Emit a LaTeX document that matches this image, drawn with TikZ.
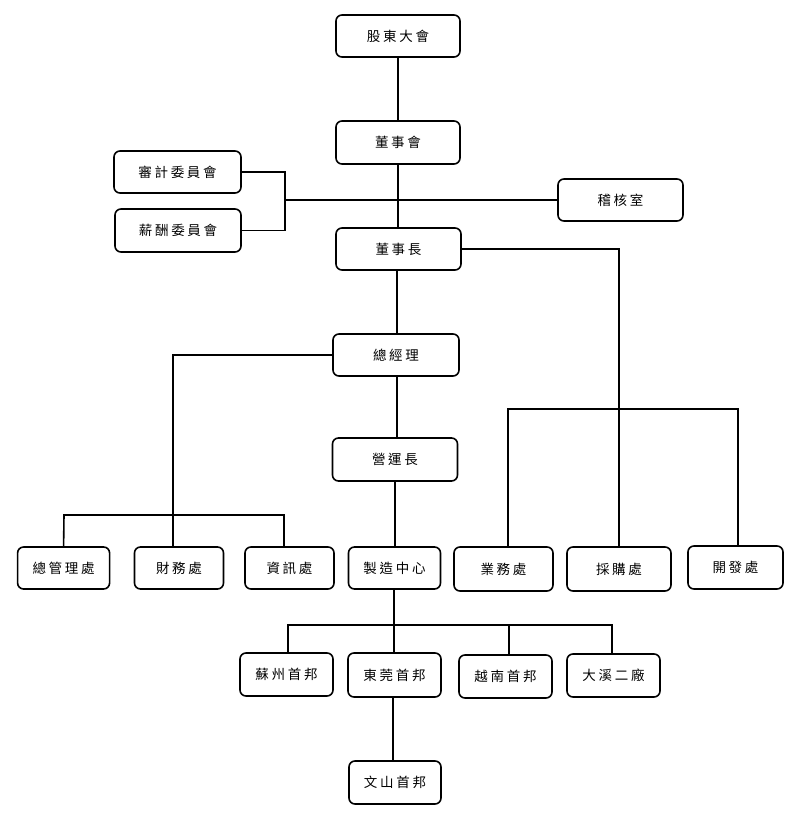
\documentclass[tikz,border=0pt]{standalone}
\usepackage{fontspec}
\newfontfamily\cjk[LetterSpace=20]{Noto Sans CJK TC}
\usetikzlibrary{positioning}

\begin{document}
\begin{tikzpicture}
			[x=1pt,y=-1pt,line width=1.6pt]
			\tikzstyle{every node}=[draw, rounded corners=6pt, inner sep=0pt, minimum height=42pt, font=\cjk\fontsize{13.5}{16}\selectfont]
			\useasboundingbox (0,0) rectangle (791,815);
			
			\node[minimum width=124pt]  (gd) at (398,36) {股東大會};
			\node[minimum width=124pt, minimum height=43pt]  (dsh) at (398,142.5) {董事會};
			\node[minimum width=127pt]  (sj) at (177.5,172) {審計委員會};
			\node[minimum width=126pt, minimum height=43pt]  (xc) at (178,230.5) {薪酬委員會};
			\node[minimum width=125pt]  (jh) at (620.5,200) {稽核室};
			\node[minimum width=125pt]  (dsz) at (398.5,249) {董事長};
			\node[minimum width=126pt]  (zjl) at (396,355) {總經理};
			\node[minimum width=125pt, minimum height=43pt]  (yyz) at (395,459.5) {營運長};
			
			\node[minimum width=92pt]  (zgl) at (63.6,568) {總管理處};
			\node[minimum width=89pt]  (cw) at (179,568) {財務處};
			\node[minimum width=89pt]  (zx) at (289.5,568) {資訊處};
			\node[minimum width=92pt]  (zz) at (394.5,568) {製造中心};
			\node[minimum width=99pt, minimum height=44pt]  (yw) at (503.5,569) {業務處};
			\node[minimum width=104pt, minimum height=44pt]  (cg) at (619,569) {採購處};
			\node[minimum width=95pt, minimum height=43pt]  (kf) at (735.5,567.5) {開發處};
			
			\node[minimum width=93pt, minimum height=43pt]  (sz) at (286.5,674.5) {蘇州首邦};
			\node[minimum width=93pt, minimum height=44pt]  (dg) at (394.5,675) {東莞首邦};
			\node[minimum width=93pt, minimum height=43pt]  (yn) at (505.5,676.5) {越南首邦};
			\node[minimum width=93pt, minimum height=43pt]  (dx) at (613.5,675.5) {大溪二廠};
			\node[minimum width=92pt, minimum height=43pt]  (ws) at (395,782.5) {文山首邦};
			
			\coordinate (br) at (285,200);
			\coordinate (rbl) at (508,409);
			\coordinate (rbr) at (738,409);
			\coordinate (lbl) at (64,515);
			\coordinate (lbr) at (284,515);
			\coordinate (bb) at (394,625);
			
			\draw[] (gd) -- (dsh);
			\draw[] (dsh.south) -- (dsh.south |- dsz.north);
			\draw[] (jh.west) -- (br);
			\draw[] (sj.east) -| (br) |- (xc.east);
			\draw[] (dsz.east) -| (cg.north);
			\draw[] ([xshift=4.5pt]yw.north) -- (rbl) -- (rbr) -- ([xshift=2.5pt]kf.north);
			\draw[] ([xshift=-1.5pt]dsz.south) -- ([xshift=-1.5pt]dsz.south |- zjl.north);
			\draw[] (zjl.west) -| ([xshift=-6pt]cw.north);
			\draw[] (zgl.north) -- (lbl) -- (lbr) -- ([xshift=-5.5pt]zx.north);
			\draw[] ([xshift=1pt]zjl.south) -- ([xshift=1pt]zjl.south |- yyz.north);
			\draw[] (yyz.south) -- (yyz.south |- zz.north);
			\draw[] ([xshift=-0.5pt]zz.south) -- ([xshift=-0.5pt]zz.south |- dg.north);
			\draw[] ([xshift=1.5pt]sz.north) |- (bb) -| ([xshift=-1.5pt]dx.north);
			\draw[] ([xshift=3.5pt]yn.north) -- ([xshift=3.5pt]yn.north |- bb);
			\draw[] ([xshift=-1.5pt]dg.south) -- ([xshift=-1.5pt]dg.south |- ws.north);
		\end{tikzpicture}
\end{document}
